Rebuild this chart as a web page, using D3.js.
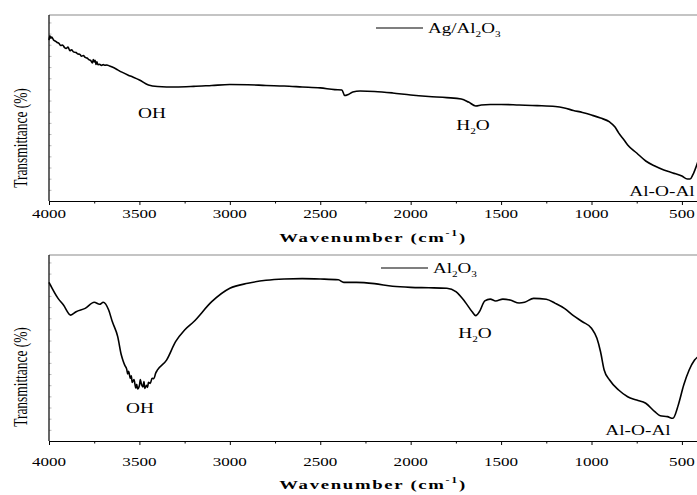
<!DOCTYPE html>
<html><head><meta charset="utf-8">
<script src="https://cdn.jsdelivr.net/npm/d3@7"></script>
<style>body{margin:0;background:#fff}svg{display:block}text{font-family:"Liberation Serif","Times New Roman",serif}</style>
</head><body><svg id="c" width="697" height="495"></svg>
<script>
// Wavenumber (cm-1) and transmittance (arbitrary %)
const agWave = [4000,3995,3990,3985,3975,3965,3955,3945,3935,3925,3915,3905,3895,3885,3875,3865,3850,3840,3830,3820,3810,3800,3790,3780,3770,3760,3755,3750,3745,3740,3735,3730,3720,3710,3700,3690,3680,3665,3650,3620,3600,3550,3500,3450,3400,3300,3200,3100,3000,2900,2800,2700,2600,2500,2420,2380,2365,2345,2320,2280,2200,2100,2000,1900,1800,1720,1680,1640,1610,1560,1500,1400,1300,1200,1150,1100,1050,1000,950,900,870,850,820,800,750,700,650,600,550,500,470,455,440,420,400];
const agT    = [86.5,88.8,87.5,88.2,86.6,86.0,85.2,84.8,83.6,83.9,82.6,82.0,82.8,80.8,81.3,80.2,79.8,79.0,78.9,77.8,78.2,77.2,76.9,76.0,75.6,74.2,76.0,74.8,75.7,73.4,74.9,73.3,73.5,72.9,73.3,73.0,73.1,72.6,72.0,70.5,69.4,67.2,65.1,62.4,61.6,61.3,61.6,62.1,62.6,62.5,62.1,61.8,61.3,60.8,59.9,59.7,56.7,57.3,58.6,59.1,58.9,58.1,57.0,56.2,55.6,54.8,53.2,51.1,51.6,51.9,51.9,51.6,51.3,50.8,50.0,48.7,47.6,46.2,44.6,42.5,39.8,36.6,32.8,30.1,25.8,21.5,18.8,16.7,15.1,13.4,11.8,11.8,14.0,18.8,24.7];

const alWave = [4000,3950,3920,3880,3850,3800,3750,3720,3700,3670,3650,3620,3600,3590,3580,3570,3565,3560,3550,3545,3540,3530,3520,3515,3510,3500,3495,3490,3480,3475,3470,3460,3455,3450,3440,3430,3420,3410,3400,3350,3300,3250,3200,3100,3000,2900,2800,2700,2600,2500,2400,2370,2300,2200,2100,2000,1900,1800,1750,1700,1660,1640,1620,1590,1560,1530,1490,1450,1400,1370,1320,1250,1200,1150,1100,1050,1000,970,950,930,900,850,800,750,700,650,620,580,550,520,490,460,430,400];
const alT    = [85.3,76.7,73.1,67.7,69.5,71.3,74.6,73.5,74.6,70.4,64.2,56.1,46.2,43.0,40.5,38.5,36.0,37.5,33.7,35.0,31.5,33.0,28.5,30.5,28.0,29.8,33.0,31.0,29.0,32.0,28.3,30.0,28.8,31.5,31.0,33.7,33.5,36.5,38.2,43.5,53.4,59.7,64.1,74.9,82.1,84.8,86.4,87.1,87.3,87.1,86.7,85.3,85.3,84.6,83.2,82.6,82.4,82.1,80.3,74.9,69.5,67.4,69.5,75.3,76.3,75.3,76.3,75.8,74.2,74.6,76.7,76.2,74.0,71.3,67.4,64.1,60.6,55.2,48.0,38.2,32.8,27.4,23.8,22.0,20.3,15.8,13.6,13.1,12.2,19.4,30.1,38.2,43.5,46.2];

const xTicks = [4000,3500,3000,2500,2000,1500,1000,500];

const panels = [
  {top:15, bottom:201, wave:agWave, t:agT, legend:["Ag/Al",["2"],"O",["3"]],
   labels:[{px:152,y:113,txt:"OH"},{px:473,y:125,txt:"H2O"},{px:662,y:191,txt:"Al-O-Al"}],
   legX:376, legY:28, tickY:218, titleY:242, ylabY:138},
  {top:255, bottom:441, wave:alWave, t:alT, legend:["Al",["2"],"O",["3"]],
   labels:[{px:140,y:408,txt:"OH"},{px:475,y:333,txt:"H2O"},{px:638,y:430,txt:"Al-O-Al"}],
   legX:381, legY:268, tickY:466, titleY:489, ylabY:377}
];

const SX = 1.4; // the picture's text is stretched horizontally
const svg = d3.select("#c");
const x = d3.scaleLinear().domain([4000,400]).range([49,700]);

function stext(g, px, py, size, anchor){
  return g.append("text").attr("transform",`translate(${px},${py}) scale(${SX},1)`)
    .attr("text-anchor",anchor||"start").attr("font-size",size);
}

panels.forEach(p=>{
  const y = d3.scaleLinear().domain([0,100]).range([p.bottom,p.top]);
  const g = svg.append("g");
  g.append("line").attr("x1",49).attr("x2",697).attr("y1",p.top).attr("y2",p.top)
    .attr("stroke","#8a8a8a").attr("stroke-width",1.2);
  g.append("g").attr("transform","translate(49,0)")
    .call(d3.axisRight(y).tickValues(d3.range(6,100,6)).tickSize(2.5).tickFormat(""))
    .call(a=>a.select(".domain").remove())
    .call(a=>a.selectAll("line").attr("stroke","#bbb"));
  g.append("line").attr("x1",49).attr("x2",49).attr("y1",p.top).attr("y2",p.bottom)
    .attr("stroke","#000").attr("stroke-width",1.2);
  const ax = g.append("g").attr("transform",`translate(0,${p.bottom})`)
    .call(d3.axisBottom(x).tickValues(d3.range(4000,399,-250)).tickSize(4).tickSizeOuter(0).tickFormat(""));
  ax.select(".domain").attr("stroke-width",1.2);
  ax.selectAll(".tick").filter(d=>d%500!==0).select("line").attr("y2",2.5);
  xTicks.forEach(d=>stext(g, x(d), p.tickY, 12.2, "middle").text(d));
  const tt = stext(g, 373, p.titleY, 13.4, "middle").attr("font-weight","bold").attr("letter-spacing",1.2);
  tt.append("tspan").text("Wavenumber (cm");
  tt.append("tspan").attr("dy",-6).attr("font-size",8.5).text("-1");
  tt.append("tspan").attr("dy",6).text(")");
  g.append("text").attr("transform",`translate(21,${p.ylabY}) rotate(-90) scale(1,${SX})`)
    .attr("text-anchor","middle").attr("dy","0.32em").attr("font-size",13.4).text("Transmittance (%)");
  const pts = p.wave.map((w,i)=>[w,p.t[i]]);
  g.append("path").datum(pts).attr("fill","none").attr("stroke","#000").attr("stroke-width",1.6)
    .attr("stroke-linejoin","round")
    .attr("d",d3.line().x(d=>x(d[0])).y(d=>y(d[1])).curve(d3.curveMonotoneX));
  g.append("line").attr("x1",p.legX).attr("x2",p.legX+47).attr("y1",p.legY).attr("y2",p.legY)
    .attr("stroke","#000").attr("stroke-width",1.2);
  const lt = stext(g, p.legX+52, p.legY+5, 13.6);
  let first = true;
  p.legend.forEach(s=>{
    if (Array.isArray(s)) lt.append("tspan").attr("dy",4).attr("font-size",8).text(s[0]);
    else { lt.append("tspan").attr("dy",first?0:-4).text(s); }
    first = false;
  });
  p.labels.forEach(l=>{
    const t = stext(g, l.px, l.y+5, 13.8, "middle");
    if (l.txt==="H2O"){
      t.append("tspan").text("H");
      t.append("tspan").attr("dy",4).attr("font-size",8).text("2");
      t.append("tspan").attr("dy",-4).text("O");
    } else t.text(l.txt);
  });
});
</script></body></html>
